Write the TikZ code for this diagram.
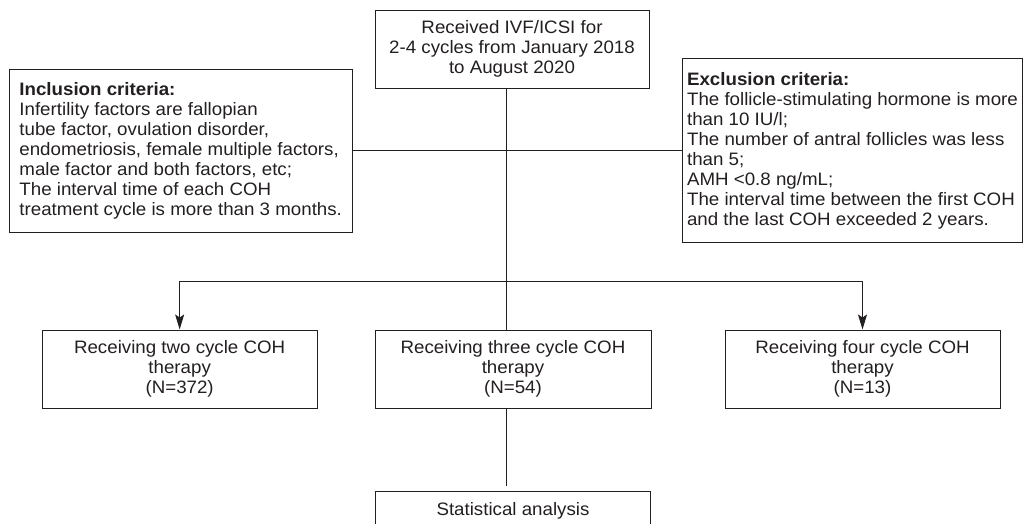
\documentclass[tikz,border=0pt]{standalone}
\usepackage{fontspec}
\setmainfont{Liberation Sans}[FakeStretch=1.04]
\usetikzlibrary{positioning, arrows.meta}
\definecolor{ink}{HTML}{231F20}

\begin{document}
\begin{tikzpicture}[
            x=1pt, y=1pt,
            box/.style={
                rectangle,
                draw=ink,
                line width=1pt,
                text=ink,
                minimum height=78pt,
                inner sep=0pt,
                align=center,
                font=\fontsize{18}{20}\selectfont
            },
            crit/.style={
                box,
                align=left
            },
            arrow/.style={
                -{Stealth[length=15pt, width=9pt, inset=3pt]},
                line width=1pt,
                draw=ink
            },
            link/.style={
                line width=1pt,
                draw=ink
            }
        ]
            \useasboundingbox (0,0) rectangle (1030,-523);
            \clip (0,0) rectangle (1030,-523);

            \node [box, minimum width=274pt] (recv) at (512,-49) {Received IVF/ICSI for\\2-4 cycles from January 2018\\to August 2020};

            \node [crit, minimum width=343pt, minimum height=163pt] (incl) at (180.7,-150.8) {\textbf{Inclusion criteria:}\\Infertility factors are fallopian\\tube factor, ovulation disorder,\\endometriosis, female multiple factors,\\male factor and both factors, etc;\\The interval time of each COH\\treatment cycle is more than 3 months.};
            \node [crit, minimum width=339.6pt, minimum height=184.4pt] (excl) at (852.5,-150.5) {\textbf{Exclusion criteria:}\\The follicle-stimulating hormone is more\\than 10 IU/l;\\The number of antral follicles was less\\than 5;\\AMH <0.8 ng/mL;\\The interval time between the first COH\\and the last COH exceeded 2 years.};

            \node [box, minimum width=276pt] (three) at (513,-369) {Receiving three cycle COH\\therapy\\(N=54)};
            \node [box, minimum width=274.7pt, left=57pt of three] (two) {Receiving two cycle COH\\therapy\\(N=372)};
            \node [box, minimum width=275pt, right=73pt of three] (four) {Receiving four cycle COH\\therapy\\(N=13)};
            \node [box, minimum width=275pt, minimum height=40pt, below=82pt of three] (stat) {Statistical analysis};

            \coordinate (split) at (506,-281);

            \draw [link] (recv.south -| split) -- (three.north -| split);
            \draw [link] (incl.east) -- (incl.east -| split);
            \draw [link] (excl.west) -- (excl.west -| split);
            \draw [arrow] (split) -| (two.north);
            \draw [arrow] (split) -| (four.north);
            \draw [link, shorten >=5pt] (three.south -| split) -- (stat.north -| split);

        \end{tikzpicture}
\end{document}
